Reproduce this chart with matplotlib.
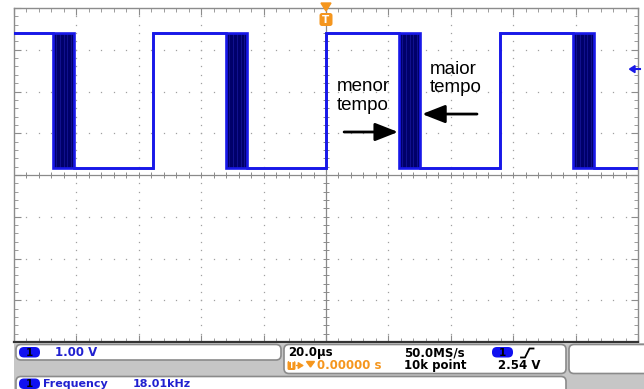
import numpy as np
import matplotlib
matplotlib.use('Agg')
import matplotlib.pyplot as plt
from matplotlib.patches import FancyBboxPatch, Rectangle, Polygon

# Sinal PWM capturado: tempos em microssegundos, niveis em divisoes (1.00 V/div)
subidas_us = [-110.9, -55.4, 0.0, 55.8]
atrasos_descida_us = [23.5, 24.4, 25.6, 26.8, 28.0, 29.1, 30.1]
nivel_alto = 3.40
nivel_baixo = 0.17
nivel_trigger = 2.56

# Textos das anotacoes
texto_menor = 'menor\ntempo'
texto_maior = 'maior\ntempo'
pos_menor = (3.5, 1.89)
seta_menor = ((5.8, 1.03), (23.1, 1.03))
pos_maior = (33.3, 2.31)
seta_maior = ((48.4, 1.46), (30.8, 1.46))

# Leituras da barra de status
escala_v = '1.00 V'
base_tempo = '20.0µs'
amostragem = '50.0MS/s'
pontos = '10k point'
atraso_trig = '0.00000 s'
trig_v = '2.54 V'
freq_txt = ['Frequency', '18.01kHz']

W, H = 644, 389
AZUL = '#1818e8'
MARINHO = '#00006a'
LARANJA = '#f5961e'
CINZA = '#8c8c8c'

fig = plt.figure(figsize=(W / 100, H / 100), dpi=100)


def ret_fig(x0, y0, x1, y1):
    return [x0 / W, 1 - y1 / H, (x1 - x0) / W, (y1 - y0) / H]


ax = fig.add_axes(ret_fig(14, 8, 638, 342))
ax.set_xlim(-100, 100)
ax.set_ylim(-4, 4)

# graticula
ax.set_xticks(np.arange(-100, 101, 20))
ax.set_xticks(np.arange(-100, 101, 4), minor=True)
ax.set_yticks(np.arange(-4, 5, 1))
ax.set_yticks(np.arange(-4, 4.01, 0.2), minor=True)
ax.tick_params(which='both', direction='in', top=True, right=True,
               labelbottom=False, labelleft=False, color=CINZA)
ax.tick_params(which='major', length=5, width=0.8)
ax.tick_params(which='minor', length=3, width=0.6)
for lado in ['top', 'left', 'right']:
    ax.spines[lado].set_color(CINZA)
    ax.spines[lado].set_linewidth(1.0)
ax.spines['bottom'].set_color('#333333')
ax.spines['bottom'].set_linewidth(1.6)

xm = np.arange(-100, 101, 4)
ym = np.arange(-4, 4.01, 0.2)
for gx in [-80, -60, -40, -20, 20, 40, 60, 80]:
    ax.plot(np.full_like(ym, gx), ym, ls='none', marker='s', ms=0.9,
            color='#a0a0a0', mew=0)
for gy in [-3, -2, -1, 1, 2, 3]:
    ax.plot(xm, np.full_like(xm, gy, dtype=float), ls='none', marker='s',
            ms=0.9, color='#a0a0a0', mew=0)
ax.axhline(0, color='#8a8a8a', lw=0.9)
ax.axvline(0, color='#8a8a8a', lw=0.9)
ax.plot(xm, np.zeros_like(xm), ls='none', marker='|', ms=4, color='#8a8a8a', mew=0.7)
ax.plot(np.zeros_like(ym), ym, ls='none', marker='_', ms=4, color='#8a8a8a', mew=0.7)


def forma_onda(atraso):
    xs, ys = [], []
    for r in subidas_us:
        xs += [r, r, r + atraso, r + atraso]
        ys += [nivel_baixo, nivel_alto, nivel_alto, nivel_baixo]
    xs.append(150)
    ys.append(nivel_baixo)
    return xs, ys


# faixa de persistencia das descidas
d0, d1 = min(atrasos_descida_us), max(atrasos_descida_us)
for r in subidas_us:
    ax.fill_betweenx([nivel_baixo, nivel_alto], r + d0, r + d1,
                     color=MARINHO, lw=0, zorder=2)

for d in atrasos_descida_us[1:-1]:
    xs, ys = forma_onda(d)
    ax.plot(xs, ys, color='#141496', lw=0.6, zorder=3)
for d in [d0, d1]:
    xs, ys = forma_onda(d)
    ax.plot(xs, ys, color=AZUL, lw=1.9, zorder=4, solid_joinstyle='miter')

# anotacoes
ax.text(*pos_menor, texto_menor, fontsize=13.5, family='Liberation Sans',
        va='center', ha='left', linespacing=1.1, zorder=6)
ax.text(*pos_maior, texto_maior, fontsize=13.5, family='Liberation Sans',
        va='center', ha='left', linespacing=1.1, zorder=6)
for ini, fim in [seta_menor, seta_maior]:
    ax.annotate('', xy=fim, xytext=ini, zorder=6,
                arrowprops=dict(arrowstyle='-|>,head_length=1.4,head_width=0.55',
                                mutation_scale=10, lw=2, color='black',
                                shrinkA=0, shrinkB=0))

# camada da interface (coordenadas em pixels)
ui = fig.add_axes([0, 0, 1, 1])
ui.set_xlim(0, W)
ui.set_ylim(H, 0)
ui.axis('off')

# marcador de trigger no topo
ui.add_patch(Polygon([(321, 3), (331, 3), (326, 11)], closed=True, color=LARANJA))
ui.add_patch(FancyBboxPatch((319.5, 13), 13, 13, boxstyle='round,pad=0,rounding_size=2.5',
                            fc=LARANJA, ec='none'))
ui.text(326, 19.8, 'T', color='white', fontsize=7.5, fontweight='bold',
        ha='center', va='center')

# nivel de trigger na borda direita
y_trig = 176 - nivel_trigger * 41.75
ui.add_patch(Polygon([(629.5, y_trig), (635, y_trig - 3.5), (635, y_trig + 3.5)],
                     closed=True, color=AZUL))
ui.plot([634, 640], [y_trig, y_trig], color=AZUL, lw=1.5)

# barra de status
ui.add_patch(Rectangle((14, 342.8), W - 14, H - 342.8, color='#c6c6c6', lw=0))


def caixa(x0, y0, x1, y1):
    ui.add_patch(FancyBboxPatch((x0, y0), x1 - x0, y1 - y0,
                                boxstyle='round,pad=0,rounding_size=5',
                                fc='white', ec='#8a8a8a', lw=1.2))


caixa(16, 344.5, 281, 360)
caixa(284, 344.5, 566, 373.5)
caixa(569, 344.5, 660, 373.5)
caixa(16, 376.5, 566, 400)


def emblema(x, y):
    ui.add_patch(FancyBboxPatch((x, y), 21, 10.5, boxstyle='round,pad=0,rounding_size=5',
                                fc='#1010f0', ec='none'))
    ui.text(x + 10.5, y + 5.6, '1', fontsize=7.5, fontweight='bold', color='black',
            ha='center', va='center')


fonte = dict(fontsize=8.5, fontweight='bold', family='DejaVu Sans', va='center')
emblema(19, 347)
ui.text(55, 352.5, escala_v, color='#2020d0', **fonte)

ui.text(288, 352.5, base_tempo, color='black', **fonte)
ui.text(404, 352.5, amostragem, color='black', **fonte)
emblema(492, 347)
ui.plot([521, 525, 529.5, 533.5], [357.5, 357.5, 348.5, 348.5], color='black', lw=1.3)

ui.add_patch(FancyBboxPatch((287.5, 361), 8, 9, boxstyle='round,pad=0,rounding_size=1.5',
                            fc=LARANJA, ec='none'))
ui.text(291.5, 365.8, 'T', color='white', fontsize=5.5, fontweight='bold',
        ha='center', va='center')
ui.annotate('', xy=(304, 365.5), xytext=(296.5, 365.5),
            arrowprops=dict(arrowstyle='-|>,head_length=0.4,head_width=0.25',
                            mutation_scale=8, lw=1, color=LARANJA,
                            shrinkA=0, shrinkB=0))
ui.add_patch(Polygon([(306.5, 361.5), (314.5, 361.5), (310.5, 367)], closed=True,
                     color=LARANJA))
ui.text(317, 365.5, atraso_trig, color=LARANJA, **fonte)
ui.text(404, 365.5, pontos, color='black', **fonte)
ui.text(498, 365.5, trig_v, color='black', **fonte)

emblema(19, 378.5)
fonte_freq = dict(fonte, fontsize=8)
ui.text(43, 383.6, freq_txt[0], color='#2020d0', **fonte_freq)
ui.text(133, 383.6, freq_txt[1], color='#2020d0', **fonte_freq)

fig.savefig('out.png', dpi=100, facecolor='white')
